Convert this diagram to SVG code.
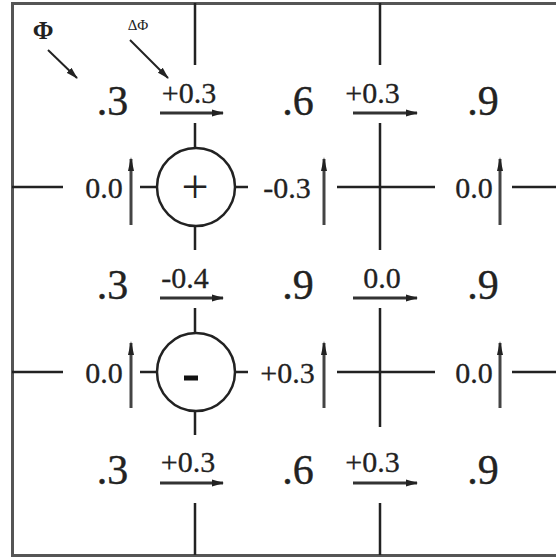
<svg xmlns="http://www.w3.org/2000/svg" width="556" height="560" viewBox="0 0 556 560">
<defs>
<marker id="ah" markerWidth="12" markerHeight="8" refX="11" refY="4" orient="auto" markerUnits="userSpaceOnUse">
<path d="M0,0.5 L12,4 L0,7.5 Z" fill="#222"/>
</marker>
<marker id="ahv" markerWidth="14" markerHeight="8" refX="12" refY="4" orient="auto" markerUnits="userSpaceOnUse">
<path d="M0,1 L14,4 L0,7 Z" fill="#222"/>
</marker>
<style>
.frame{stroke:#555;stroke-width:3;fill:none}
.ln{stroke:#222;stroke-width:2.5;fill:none}
.ar{stroke:#333;stroke-width:3;fill:none;marker-end:url(#ah)}
.arv{stroke:#444;stroke-width:3;fill:none;marker-end:url(#ahv)}
.pt{stroke:#222;stroke-width:2;fill:none;marker-end:url(#ah)}
.big{font-family:"Liberation Serif","Times New Roman",serif;font-size:42px;fill:#222;stroke:#222;stroke-width:0.4;text-anchor:middle}
.sm{font-family:"Liberation Serif","Times New Roman",serif;font-size:30px;fill:#222;stroke:#222;stroke-width:0.3;text-anchor:middle}
.lab{font-family:"Liberation Serif","Times New Roman",serif;fill:#222;text-anchor:middle}
.circ{stroke:#222;stroke-width:2.5;fill:#fff}
</style>
</defs>
<rect width="556" height="560" fill="#fff"/>
<g id="frame">
<path class="frame" d="M556,3.5 H12.5 V555.5 H556"/>
</g>
<g id="connectors">
<path class="ln" d="M195,3 V65 M195,123 V148 M195,226 V250 M195,308 V333 M195,411 V435 M195,503 V555"/>
<path class="ln" d="M380,3 V65 M380,123 V250 M380,308 V427 M380,503 V555"/>
<path class="ln" d="M12,187 H63 M140,187 H157 M234,187 H248 M337,187 H435 M512,187 H556"/>
<path class="ln" d="M12,372 H63 M140,372 H157 M234,372 H248 M337,372 H435 M512,372 H556"/>
<path class="ar" d="M160,113 H223"/>
<path class="ar" d="M353,113 H417"/>
<path class="ar" d="M160,298 H223"/>
<path class="ar" d="M353,298 H417"/>
<path class="ar" d="M160,483 H223"/>
<path class="ar" d="M353,483 H417"/>
<path class="arv" d="M131,225 V159"/>
<path class="arv" d="M324,225 V159"/>
<path class="arv" d="M500,225 V159"/>
<path class="arv" d="M131,408 V343"/>
<path class="arv" d="M324,408 V343"/>
<path class="arv" d="M500,408 V343"/>
<path class="pt" d="M48,50 L77,78"/>
<path class="pt" d="M130,40 L168,78"/>
</g>
<g id="node-plus">
<circle class="circ" cx="196" cy="187" r="39"/>
<text class="lab" x="195" y="203" font-size="48">+</text>
</g>
<g id="node-minus">
<circle class="circ" cx="196" cy="372" r="39"/>
<rect x="184" y="375.5" width="14" height="5" fill="#111"/>
</g>
<g id="labels">
<text class="lab" x="43" y="39" font-size="25" font-weight="bold">Φ</text>
<text class="lab" x="138" y="30" font-size="15">ΔΦ</text>
</g>
<g id="phi-values">
<text class="big" x="112.5" y="115">.3</text>
<text class="big" x="298" y="115">.6</text>
<text class="big" x="483" y="115">.9</text>
<text class="big" x="112.5" y="299">.3</text>
<text class="big" x="298" y="299">.9</text>
<text class="big" x="483" y="299">.9</text>
<text class="big" x="112.5" y="484">.3</text>
<text class="big" x="298" y="484">.6</text>
<text class="big" x="483" y="484">.9</text>
</g>
<g id="delta-values">
<text class="sm" x="189" y="103">+0.3</text>
<text class="sm" x="372.5" y="103">+0.3</text>
<text class="sm" x="185" y="288">-0.4</text>
<text class="sm" x="382" y="288">0.0</text>
<text class="sm" x="188" y="472">+0.3</text>
<text class="sm" x="372.5" y="472">+0.3</text>
<text class="sm" x="104" y="198">0.0</text>
<text class="sm" x="287" y="198">-0.3</text>
<text class="sm" x="474" y="198">0.0</text>
<text class="sm" x="104" y="383">0.0</text>
<text class="sm" x="287.5" y="383">+0.3</text>
<text class="sm" x="474" y="383">0.0</text>
</g>
</svg>
